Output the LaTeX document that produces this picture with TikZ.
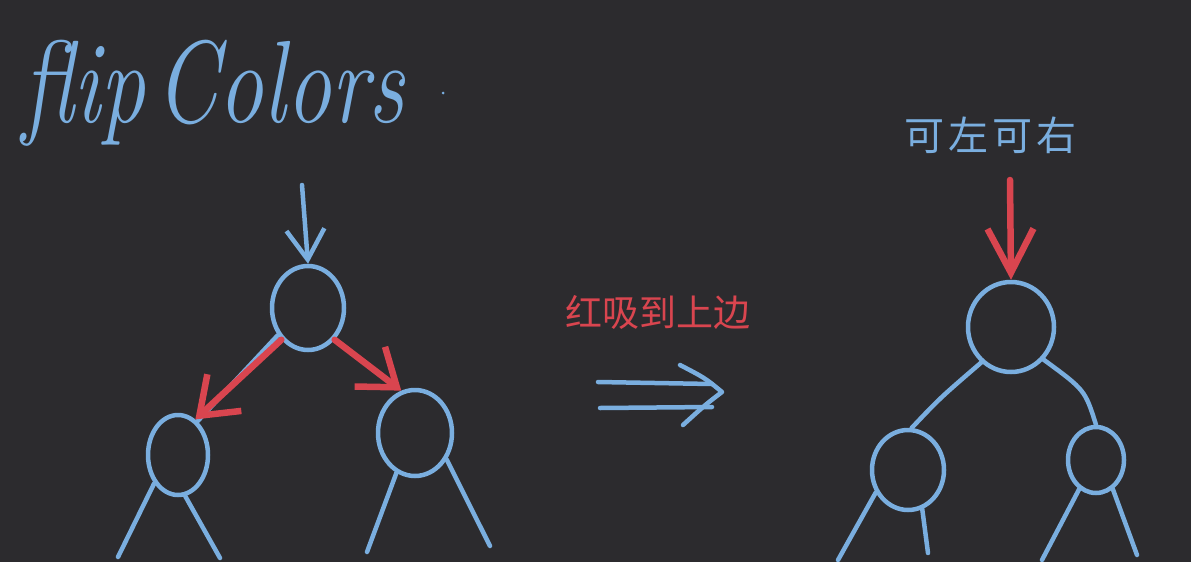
\documentclass[tikz,border=0pt]{standalone}
\usepackage{fontspec}
\newfontfamily\cjk{Noto Sans CJK SC}
\usetikzlibrary{shapes.geometric,arrows.meta}
\definecolor{bg}{HTML}{2C2B2E}
\definecolor{pen}{HTML}{7AAEDF}
\definecolor{ink}{HTML}{D9454F}
\tikzset{
  circ/.style={ellipse, draw=pen, line width=4.5pt, inner sep=0pt},
  bl/.style={draw=pen, line width=4.5pt, line cap=round, line join=round},
  rd/.style={draw=ink, line width=6.5pt, line cap=round, line join=round},
}
\begin{document}
\begin{tikzpicture}[x=1pt,y=-1pt]
\fill[bg] (0,0) rectangle (1191,562);
\useasboundingbox (0,0) rectangle (1191,562);

% title
\node[font=\fontsize{90}{90}\selectfont\itshape, text=pen, anchor=base west, inner sep=0pt] (title) at (22,122) {\scalebox{1}[1.3]{flip\hspace{10pt}Colors}};
\fill[pen] (443,93) circle (1.5);

% left tree
\node[circ, minimum width=72pt, minimum height=84pt] (A) at (308,308) {};
\node[circ, minimum width=60pt, minimum height=80pt] (B) at (178,455) {};
\node[circ, minimum width=74pt, minimum height=86pt] (C) at (415,433) {};
\coordinate (inA) at (302,185);
\draw[bl, -{Straight Barb[length=30pt,width=38pt]}] (inA) -- (A.north);
\draw[bl] (A.222) -- (B.60);
\draw[rd, -{Straight Barb[length=34pt,width=50pt]}] (A.230) -- (B.64);
\draw[rd, -{Straight Barb[length=34pt,width=50pt]}] (A.310) -- (C.108);
\coordinate (b1) at (118,557);
\coordinate (b2) at (220,558);
\coordinate (c1) at (367,552);
\coordinate (c2) at (490,546);
\draw[bl] (B.230) -- (b1);
\draw[bl] (B.280) -- (b2);
\draw[bl] (C.245) -- (c1);
\draw[bl] (C.320) -- (c2);

% middle
\node[font=\cjk\fontsize{37}{37}\selectfont, text=ink] (t1) at (658,312) {红吸到上边};
\draw[bl] (598,382) -- (712,384);
\draw[bl] (600,408) -- (712,407);
\draw[bl] (680,365) .. controls (705,378) .. (722,392) .. controls (705,405) .. (683,425);

% right tree
\node[font=\cjk\fontsize{40}{40}\selectfont, text=pen] (t2) at (990,135) {可\hspace{4pt}左\hspace{4pt}可\hspace{4pt}右};
\node[circ, minimum width=86pt, minimum height=90pt] (R) at (1011,327) {};
\node[circ, minimum width=72pt, minimum height=80pt] (RL) at (908,470) {};
\node[circ, minimum width=56pt, minimum height=66pt] (RR) at (1096,460) {};
\coordinate (inR) at (1010,180);
\draw[rd, -{Straight Barb[length=44pt,width=46pt]}] (inR) -- (R.north);
\draw[bl] (R.230) .. controls (940,398) .. (RL.85);
\draw[bl] (R.315) .. controls (1085,390) .. (RR.north);
\coordinate (rl1) at (838,560);
\coordinate (rl2) at (928,553);
\coordinate (rr1) at (1042,560);
\coordinate (rr2) at (1137,555);
\draw[bl] (RL.215) -- (rl1);
\draw[bl] (RL.290) -- (rl2);
\draw[bl] (RR.240) -- (rr1);
\draw[bl] (RR.300) -- (rr2);
\end{tikzpicture}
\end{document}
